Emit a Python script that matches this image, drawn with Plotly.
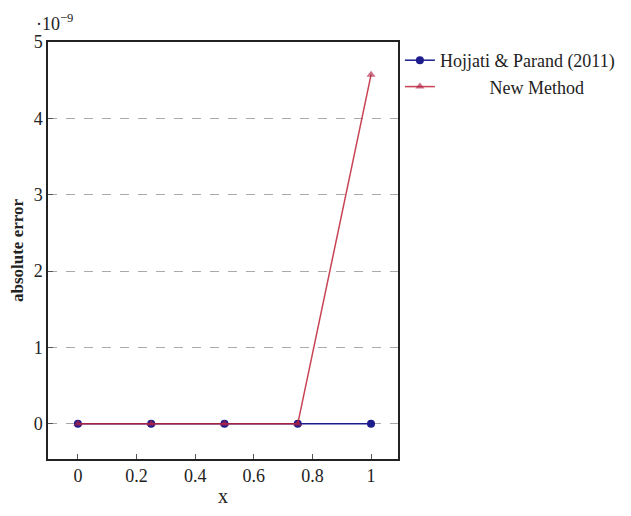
import plotly.graph_objects as go

x_vals = [0, 0.25, 0.5, 0.75, 1]
hojjati = [0, 0, 0, 0, 0]          # in units of 1e-9
new_method = [0, 0, 0, 0, 4.57]    # in units of 1e-9
x_ticks = [0, 0.2, 0.4, 0.6, 0.8, 1]
y_ticks = [0, 1, 2, 3, 4, 5]

font_family = "Liberation Serif, DejaVu Serif, serif"

fig = go.Figure()
fig.add_trace(go.Scatter(
    x=x_vals, y=hojjati, mode="lines+markers", name="Hojjati &amp; Parand (2011)",
    line=dict(color="#1c1c8c", width=1.5),
    marker=dict(symbol="circle", size=8, color="#1c1c8c"),
))
fig.add_trace(go.Scatter(
    x=x_vals, y=new_method, mode="lines+markers",
    name="\u00a0\u00a0\u00a0\u00a0\u00a0\u00a0\u00a0\u00a0\u00a0\u00a0\u00a0New Method",
    line=dict(color="rgba(190,35,55,0.85)", width=1.5),
    marker=dict(symbol="triangle-up", size=8, color="rgba(175,35,70,0.65)"),
))

axis_common = dict(
    showline=True, linecolor="#222", linewidth=1.5, mirror=True,
    ticks="inside", ticklen=5, tickcolor="#555", zeroline=False, automargin=False,
    tickfont=dict(family=font_family, size=18, color="#222"),
)
fig.update_xaxes(range=[-0.102, 1.092], tickvals=x_ticks, domain=[0, 350 / 575],
                 ticktext=[str(v) for v in x_ticks], showgrid=False,
                 title=dict(text="x", font=dict(family=font_family, size=20, color="#222"), standoff=4),
                 **axis_common)
fig.update_yaxes(range=[-0.46, 5], tickvals=y_ticks, showgrid=True,
                 gridcolor="#aaa", griddash="dash", gridwidth=1,
                 title=dict(text="<b>absolute error</b>", font=dict(family=font_family, size=17, color="#222"), standoff=8),
                 **axis_common)

fig.add_annotation(text="·10<sup>−9</sup>", xref="paper", yref="paper", x=0.0, y=1.0,
                   xanchor="center", yanchor="bottom", showarrow=False, yshift=6, xshift=6,
                   font=dict(family=font_family, size=18, color="#222"))

fig.update_layout(
    width=615, height=500,
    margin=dict(l=40, r=0, t=34, b=49),
    paper_bgcolor="white", plot_bgcolor="white",
    font=dict(family=font_family, color="#222"),
    legend=dict(x=0.612, y=1.0, xanchor="left", yanchor="top",
                font=dict(family=font_family, size=18, color="#222"),
                bgcolor="rgba(0,0,0,0)", itemwidth=30, tracegroupgap=0),
    showlegend=True,
)

fig.write_html("out.html")
